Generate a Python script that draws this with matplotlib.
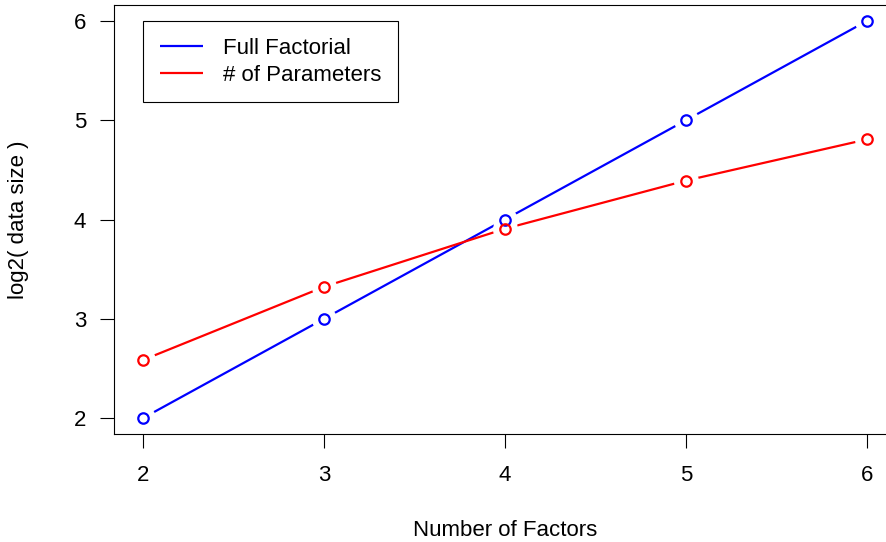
import matplotlib
matplotlib.use("Agg")
import matplotlib.pyplot as plt
import numpy as np

plt.rcParams['font.family'] = ['Liberation Sans', 'DejaVu Sans']

factors = [2, 3, 4, 5, 6]
full_factorial = [2.0, 3.0, 4.0, 5.0, 6.0]
num_parameters = [2.585, 3.322, 3.907, 4.392, 4.807]
series_labels = ["Full Factorial", "# of Parameters"]
colors = ["#0000FF", "#FF0000"]

W, H = 887, 542
AX_L, AX_R, AX_T, AX_B = 114, 896, 5, 434  # pixel box (from top-left)
fig = plt.figure(figsize=(W / 100, H / 100), dpi=100)
ax = fig.add_axes([AX_L / W, (H - AX_B) / H, (AX_R - AX_L) / W, (AX_B - AX_T) / H])

def fx(px):
    return (px - AX_L) / (AX_R - AX_L)

def fy(py):
    return (AX_B - py) / (AX_B - AX_T)

for vals, col, lab in zip([full_factorial, num_parameters], colors, series_labels):
    ax.plot(factors, vals, color=col, lw=1.6, zorder=2, label=lab, solid_capstyle='butt')
    ax.plot(factors, vals, ls='none', marker='o', ms=17, mfc='white', mec='white', zorder=3)
    ax.plot(factors, vals, ls='none', marker='o', ms=7.5, mfc='none', mec=col, mew=1.6, zorder=4)

ax.set_xlim(2 - 0.16, 6 + 0.16)
ax.set_ylim(2 - 0.16, 6 + 0.16)
ax.set_xticks(factors)
ax.set_yticks([2, 3, 4, 5, 6])
ax.tick_params(labelsize=16, length=10, width=0.8)
ax.tick_params(axis='x', pad=12)
ax.tick_params(axis='y', pad=10)
for s in ax.spines.values():
    s.set_linewidth(0.8)
ax.spines['right'].set_visible(False)

ax.set_xlabel("Number of Factors", fontsize=16)
ax.set_ylabel("log2( data size )", fontsize=16)
ax.xaxis.set_label_coords(fx(505), fy(530))
ax.xaxis.label.set_verticalalignment('center')
ax.yaxis.set_label_coords(fx(19), 0.5)
ax.yaxis.label.set_verticalalignment('center')

leg = ax.legend(loc='upper left', bbox_to_anchor=(fx(143), fy(21)),
                fontsize=16, frameon=True, fancybox=False, framealpha=1, edgecolor='black',
                handlelength=1.95, handletextpad=0.9, borderpad=0.75, labelspacing=0.27,
                borderaxespad=0)
leg.get_frame().set_linewidth(0.8)
for l in leg.get_lines():
    l.set_linewidth(1.6)

fig.savefig("out.png", dpi=100)
